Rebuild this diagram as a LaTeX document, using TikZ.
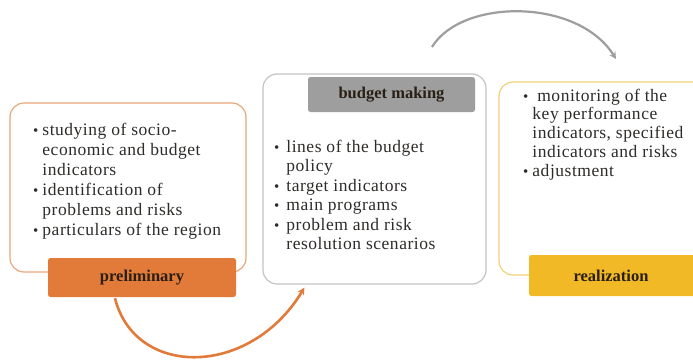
\documentclass[tikz,border=0pt]{standalone}
\usepackage{fontspec}
\setmainfont{Liberation Serif}
\newfontfamily\bodyfont[LetterSpace=3]{Liberation Serif}
\usetikzlibrary{arrows.meta,calc}
\definecolor{corange}{HTML}{E27B3A}
\definecolor{corangeln}{HTML}{EBA77A}
\definecolor{cgrey}{HTML}{9E9E9E}
\definecolor{cgreyln}{HTML}{C4C4C4}
\definecolor{cyellow}{HTML}{F2B926}
\definecolor{cyellowln}{HTML}{F1D27A}
\definecolor{ctabtext}{HTML}{2A1F14}
\definecolor{cbody}{HTML}{2E2C2A}
\tikzset{
  panel/.style={draw, fill=white, line width=1.2pt, rounded corners=14pt, inner sep=0pt},
  tab/.style={rounded corners=2.5pt, inner sep=0pt, text=ctabtext,
    font=\fontsize{16.5}{18}\selectfont\bfseries},
  body/.style={inner sep=0pt, text=cbody, anchor=base west},
  arc/.style={line width=2.6pt, -{Stealth[length=7pt,width=7pt]}}
}
\newcommand{\bul}{{\fontsize{15}{15}\selectfont\textbullet}}
\begin{document}
\begin{tikzpicture}[x=1pt,y=-1pt]
\useasboundingbox[fill=white] (0,0) rectangle (693,359);
% panels
\node[panel, draw=corangeln, minimum width=236pt, minimum height=169pt] (prebox) at (128,187.5) {};
\node[panel, draw=cgreyln, minimum width=223pt, minimum height=210pt] (budbox) at (374.5,179) {};
\node[panel, draw=cyellowln, minimum width=221pt, minimum height=193pt] (realbox) at (609.5,178.5) {};
% tabs
\node[tab, fill=corange, minimum width=188pt, minimum height=39pt] (pretab) at (142,277.5) {preliminary};
\node[tab, fill=cgrey, minimum width=167pt, minimum height=35pt] (budtab) at (391.5,94.5) {budget making};
\node[tab, fill=cyellow, minimum width=172pt, minimum height=41pt] (realtab) at (615,275.5) {\hspace*{-8pt}realization};
% body texts
\node[body] (pretext) at (33,135) {\bodyfont\fontsize{17.5}{20}\selectfont
\begin{tabular}[t]{@{}l@{\hspace{4pt}}l@{}}
\bul & studying of socio-\\
 & economic and budget\\
 & indicators\\
\bul & identification of\\
 & problems and risks\\
\bul & particulars of the region
\end{tabular}};
\node[body] (budtext) at (274,152) {\bodyfont\fontsize{17.5}{19.5}\selectfont
\begin{tabular}[t]{@{}l@{\hspace{7pt}}l@{}}
\bul & lines of the budget\\
 & policy\\
\bul & target indicators\\
\bul & main programs\\
\bul & problem and risk\\
 & resolution scenarios
\end{tabular}};
\node[body] (realtext) at (523,101) {\bodyfont\fontsize{17.5}{18.8}\selectfont
\begin{tabular}[t]{@{}l@{\hspace{4pt}}l@{}}
\bul & \ monitoring of the\\
 & key performance\\
 & indicators, specified\\
 & indicators and risks\\
\bul & adjustment
\end{tabular}};
% connectors
\draw[arc, corange] ($(pretab.south)+(-27,1)$) .. controls (135,378) and (250,378) .. ($(budbox.south west)+(42,3)$);
\coordinate (g1) at (432,47);
\coordinate (g2) at (616,59);
\draw[arc, cgrey, line width=2.2pt] (g1) .. controls (462,-2) and (578,-2) .. (g2);
\end{tikzpicture}
\end{document}
